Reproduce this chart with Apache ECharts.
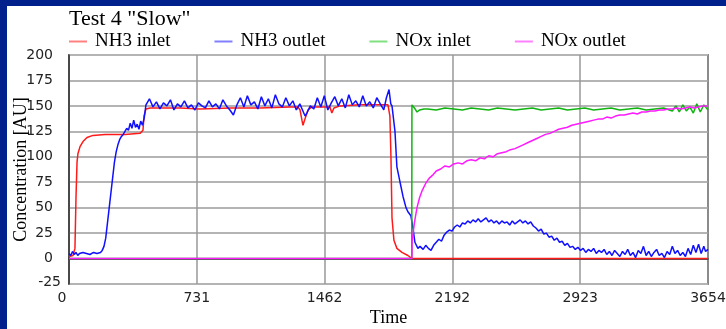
<!DOCTYPE html>
<html>
<head>
<meta charset="utf-8">
<script src="https://cdn.jsdelivr.net/npm/echarts@6/dist/echarts.min.js"></script>
<style>
html,body{margin:0;padding:0;background:#ffffff;overflow:hidden;}
#wrap{position:relative;width:726px;height:329px;background:#ffffff;}
#bt{position:absolute;left:0;top:0;width:726px;height:6px;background:#00218c;}
#bl{position:absolute;left:0;top:0;width:7px;height:329px;background:#00218c;}
#c{position:absolute;left:0;top:0;width:726px;height:329px;}
</style>
</head>
<body>
<div id="wrap"><div id="bt"></div><div id="bl"></div><div id="c"></div></div>
<script>
// ---- data ----
const chartTitle = 'Test 4 "Slow"';
const seriesNames = ['NH3 inlet', 'NH3 outlet', 'NOx inlet', 'NOx outlet'];
const xTicks = [0, 731, 1462, 2192, 2923, 3654];
const yTicks = [-25, 0, 25, 50, 75, 100, 125, 150, 175, 200];

// [time, concentration]
const nh3Inlet = [
  [0,2],[11,1],[23,3],[29,2],[34,10],[40,60],[46,95],[51,103],[63,110],[80,115],[103,119],[137,121],
  [206,122],[320,122],[406,123],[423,126],[429,140],[440,147],[463,148],[635,148],[749,147],[920,148],
  [1092,148],[1264,149],[1309,149],[1321,146],[1332,136],[1338,131],[1349,137],[1367,146],[1389,149],
  [1492,149],[1503,143],[1515,148],[1550,150],[1664,151],[1824,151],[1835,140],[1841,100],[1847,40],
  [1858,18],[1875,10],[1904,6],[1938,3],[1961,0],[3654,0]
];

const nh3Outlet = [
  [0,5],[10,3],[20,7],[30,4],[40,6],[50,3],[60,5],[80,6],[100,5],[120,4],[140,6],[160,5],[180,6],[190,8],
  [200,12],[210,20],[220,35],[230,50],[240,65],[250,80],[260,95],[270,105],[280,112],[290,117],[300,120],
  [310,122],[320,125],[330,128],[340,126],[350,133],[360,128],[370,136],[380,129],[390,132],[400,127],
  [410,135],[420,131],[430,138],[440,151],[460,157],[480,149],[500,154],[520,147],[540,153],[560,150],
  [580,156],[600,146],[620,152],[640,149],[660,155],[680,148],[700,151],[720,146],[740,153],[760,150],
  [780,148],[800,155],[820,149],[840,152],[860,147],[880,156],[900,150],[920,146],[940,141],[960,151],
  [980,158],[1000,149],[1020,160],[1040,151],[1060,154],[1080,147],[1100,159],[1120,150],[1140,157],
  [1160,148],[1180,161],[1200,152],[1220,149],[1240,158],[1260,150],[1280,155],[1300,146],[1320,152],
  [1340,144],[1350,140],[1360,143],[1380,150],[1400,147],[1420,158],[1440,149],[1460,160],[1480,146],
  [1500,153],[1520,159],[1540,150],[1560,157],[1580,148],[1600,161],[1620,151],[1640,155],[1660,149],
  [1680,160],[1700,150],[1720,154],[1740,148],[1760,158],[1780,152],[1800,146],[1815,158],[1830,166],
  [1840,152],[1847,150],[1864,125],[1875,90],[1893,75],[1910,61],[1927,50],[1938,46],[1955,42],
  [1967,30],[1978,16],[1995,10],[2007,12],[2025,9],[2040,13],[2055,10],[2070,8],[2085,13],[2100,16],
  [2115,19],[2130,17],[2145,23],[2160,26],[2175,28],[2190,27],[2205,31],[2220,33],[2235,31],[2250,35],
  [2265,34],[2280,37],[2295,35],[2310,38],[2325,36],[2340,39],[2355,36],[2370,38],[2385,40],[2400,36],
  [2415,38],[2430,35],[2445,37],[2460,34],[2475,37],[2490,35],[2505,36],[2520,33],[2535,37],[2550,34],
  [2565,36],[2580,38],[2595,35],[2610,37],[2625,34],[2640,36],[2655,32],[2670,30],[2685,27],[2700,29],
  [2715,24],[2730,25],[2745,21],[2760,22],[2775,18],[2790,20],[2805,16],[2820,17],[2835,13],[2850,15],
  [2865,11],[2880,12],[2895,9],[2910,11],[2925,8],[2940,10],[2955,6],[2970,9],[2985,7],[3000,10],
  [3015,5],[3030,8],[3045,6],[3060,9],[3075,4],[3090,7],[3105,3],[3120,8],[3135,5],[3150,2],[3165,7],
  [3180,4],[3195,9],[3210,3],[3225,6],[3240,1],[3255,8],[3270,5],[3285,12],[3300,3],[3315,7],[3330,2],
  [3345,6],[3360,9],[3375,3],[3390,5],[3405,1],[3420,7],[3435,4],[3450,12],[3465,5],[3480,8],[3495,3],
  [3510,6],[3525,2],[3540,10],[3555,4],[3570,13],[3585,6],[3600,14],[3615,5],[3630,12],[3640,7],[3654,9]
];

const noxInlet = [
  [0,0],[1960,0],[1961,151],[1975,148],[1990,144],[2005,146],[2030,147],[2050,147],[2100,146],[2150,148],
  [2200,147],[2250,146],[2300,148],[2350,147],[2400,146],[2450,148],[2500,147],[2550,146],[2600,147],
  [2650,148],[2700,146],[2750,147],[2800,148],[2850,146],[2900,147],[2950,148],[3000,146],[3050,147],
  [3100,148],[3150,146],[3200,147],[3250,148],[3300,146],[3350,147],[3400,148],[3450,145],[3470,150],
  [3490,144],[3510,151],[3530,145],[3550,149],[3570,143],[3590,152],[3610,144],[3630,151],[3654,146]
];

const noxOutlet = [
  [0,0],[1961,0],[1962,17],[1975,35],[1990,50],[2005,60],[2020,67],[2040,74],[2060,79],[2080,82],
  [2100,86],[2125,88],[2150,91],[2175,90],[2200,93],[2225,94],[2250,93],[2275,96],[2300,97],[2325,96],
  [2350,99],[2375,98],[2400,101],[2425,100],[2450,103],[2475,104],[2500,105],[2525,107],[2550,108],
  [2575,110],[2600,112],[2625,114],[2650,116],[2675,118],[2700,120],[2725,122],[2750,123],[2775,125],
  [2800,127],[2825,128],[2850,129],[2875,131],[2900,132],[2925,133],[2950,134],[2975,135],[3000,136],
  [3025,137],[3050,137],[3075,139],[3100,138],[3125,140],[3150,141],[3175,141],[3200,142],[3225,143],
  [3250,142],[3275,144],[3300,144],[3325,145],[3350,145],[3375,146],[3400,146],[3425,147],[3450,147],
  [3475,148],[3500,147],[3525,148],[3550,149],[3575,148],[3600,149],[3625,150],[3654,150]
];

// ---- chart ----
const colors = ['#ff1a1a', '#1010ff', '#10b410', '#ff1aff'];
const legendColors = ['#ff8080', '#8080ff', '#80e080', '#ff80ff'];
const allData = [nh3Inlet, nh3Outlet, noxInlet, noxOutlet];
const serif = '"Liberation Serif","Times New Roman",serif';
const sans = '"DejaVu Sans",Verdana,sans-serif';

const chart = echarts.init(document.getElementById('c'), null, {renderer: 'canvas'});
chart.setOption({
  animation: false,
  backgroundColor: 'transparent',
  title: {
    text: chartTitle, left: 69, top: 8, padding: 0,
    textStyle: {fontFamily: serif, fontSize: 22, fontWeight: 'normal', color: '#000'}
  },
  legend: {
    left: 69, top: 32, padding: 0, itemGap: 44,
    icon: 'rect', itemWidth: 18, itemHeight: 2,
    textStyle: {fontFamily: serif, fontSize: 19, color: '#000', padding: [0, 0, 0, 3]},
    data: seriesNames.map((n, i) => ({name: n, itemStyle: {color: legendColors[i]}}))
  },
  grid: {left: 69, right: 18, top: 55, bottom: 45, outerBoundsMode: 'none', containLabel: false,
    show: true, borderColor: '#333', borderWidth: 1.5, backgroundColor: 'transparent'},
  xAxis: {
    type: 'value', min: xTicks[0], max: xTicks[xTicks.length - 1], interval: xTicks[xTicks.length - 1] / 5,
    name: 'Time', nameLocation: 'middle', nameGap: 25, nameMoveOverlap: false,
    nameTextStyle: {fontFamily: serif, fontSize: 18, color: '#000'},
    axisLine: {show: true, lineStyle: {color: '#333', width: 1.5}},
    axisTick: {show: false},
    axisLabel: {fontFamily: sans, fontSize: 14, color: '#222', margin: 7,
      formatter: v => Math.round(v) === 0 ? '{z|0}' : String(Math.round(v)),
      rich: {z: {fontFamily: sans, fontSize: 14, color: '#222', padding: [0, 14, 0, 0]}},
      showMinLabel: true, showMaxLabel: true, hideOverlap: false},
    splitLine: {show: true, lineStyle: {color: '#999', width: 1.5}}
  },
  yAxis: {
    type: 'value', min: yTicks[0], max: yTicks[yTicks.length - 1], interval: 25,
    name: 'Concentration [AU]', nameLocation: 'middle', nameGap: 39, nameMoveOverlap: false,
    nameTextStyle: {fontFamily: serif, fontSize: 18, color: '#000'},
    axisLine: {show: true, lineStyle: {color: '#333', width: 1.5}},
    axisTick: {show: false},
    axisLabel: {fontFamily: sans, fontSize: 14, color: '#222', margin: 8, hideOverlap: false,
      formatter: v => v === yTicks[0] ? '{m|' + v + '}' : '{n|' + v + '}',
      rich: {
        n: {fontFamily: sans, fontSize: 14, color: '#222', padding: [0, 8, 0, 0]},
        m: {fontFamily: sans, fontSize: 14, color: '#222', padding: [0, 0, 4, 0]}
      }},
    splitLine: {show: true, lineStyle: {color: '#b4b4b4', width: 2}}
  },
  series: seriesNames.map((n, i) => ({
    name: n, type: 'line', data: allData[i], showSymbol: false, symbol: 'none',
    lineStyle: {color: colors[i], width: 1.5}, itemStyle: {color: colors[i]}
  }))
});
</script>
</body>
</html>
